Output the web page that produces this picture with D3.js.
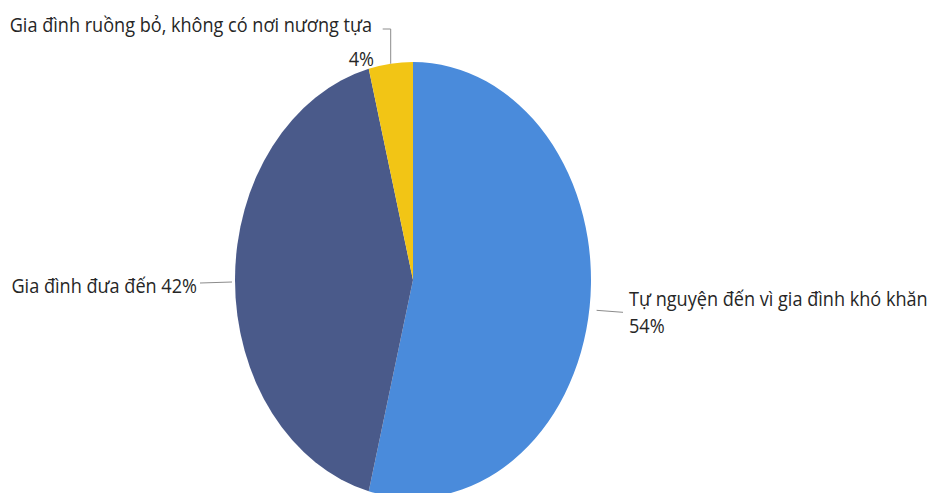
<!DOCTYPE html>
<html>
<head>
<meta charset="utf-8">
<script src="https://cdn.jsdelivr.net/npm/d3@7"></script>
<style>
  body { margin: 0; background: #fff; }
  text { font-family: "Open Sans", "Noto Sans", sans-serif; fill: #262626; }
</style>
</head>
<body>
<svg id="chart"></svg>
<script>
let width = 932,
    height = 493;

// data, clockwise from 12 o'clock
let categories = ["Tự nguyện đến vì gia đình khó khăn", "Gia đình đưa đến", "Gia đình ruồng bỏ, không có nơi nương tựa"];
let values = [54, 42, 4];
let colors = ["#4a8bdb", "#4a5a8a", "#f2c515"];

// the pie is drawn stretched vertically like the original
let cx = 413, cy = 280, rx = 178, ry = 218;

let svg = d3.select('#chart')
    .attr('width', width)
    .attr('height', height);

let pie = d3.pie().sort(null).value(function(d) { return d; });
let arcs = pie(values);

let arc = d3.arc().innerRadius(0).outerRadius(rx);

let g = svg.append('g')
    .attr('transform', 'translate(' + cx + ',' + cy + ') scale(1,' + (ry / rx) + ')');

g.selectAll('path')
    .data(arcs)
    .enter()
    .append('path')
    .attr('d', arc)
    .style('fill', function(d, i) { return colors[i]; });

// point on the ellipse edge for an angle
function edge(a, k) {
    return [cx + rx * k * Math.sin(a), cy - ry * k * Math.cos(a)];
}
function mid(d) { return (d.startAngle + d.endAngle) / 2; }

let line = d3.line();
let fontSize = 20, squeeze = 0.905;

function label(lines, x, y, anchor) {
    let t = svg.append('text')
        .attr('transform', 'translate(' + x + ',' + y + ') scale(' + squeeze + ',1)')
        .attr('text-anchor', anchor)
        .style('font-size', fontSize + 'px');
    lines.forEach(function(s, i) {
        t.append('tspan').attr('x', 0).attr('dy', i ? 27 : 0).text(s);
    });
}

// yellow slice: leader goes up, then left
let pY = edge(mid(arcs[2]), 1.0);
svg.append('path')
    .attr('d', line([pY, [pY[0], 29], [pY[0] - 8, 29]]))
    .style('fill', 'none').style('stroke', '#8c8c8c').style('stroke-width', 1);
label([categories[2]], 372, 32, 'end');
label([values[2] + '%'], 374, 66, 'end');

// dark slice: leader to the left
let pD = edge(mid(arcs[1]), 1.0);
svg.append('path')
    .attr('d', line([[pD[0] - 3, pD[1] + 2], [200, pD[1] + 3]]))
    .style('fill', 'none').style('stroke', '#8c8c8c').style('stroke-width', 1);
label([categories[1] + ' ' + values[1] + '%'], 197, 293, 'end');

// blue slice: leader to the right
let pB = edge(mid(arcs[0]), 1.0);
svg.append('path')
    .attr('d', line([[pB[0] + 7, pB[1] + 3], [623, pB[1] + 5]]))
    .style('fill', 'none').style('stroke', '#8c8c8c').style('stroke-width', 1);
label([categories[0], values[0] + '%'], 629, 306, 'start');
</script>
</body>
</html>
